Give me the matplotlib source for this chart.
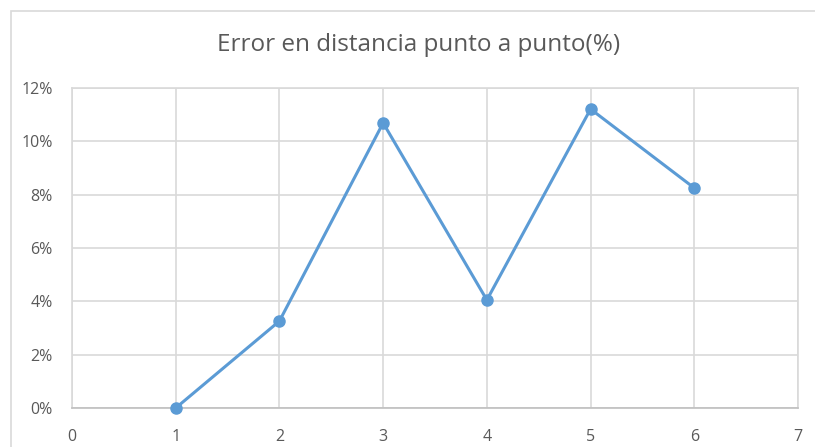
import matplotlib.pyplot as plt
from matplotlib.patches import Rectangle
from matplotlib.ticker import FuncFormatter

# valores
muestras = [1, 2, 3, 4, 5, 6]
error_pct = [0.0, 3.26, 10.69, 4.05, 11.21, 8.25]

xticks = [0, 1, 2, 3, 4, 5, 6, 7]
yticks = [0, 2, 4, 6, 8, 10, 12]

plt.rcParams['font.family'] = ['Open Sans', 'DejaVu Sans']

fig = plt.figure(figsize=(8.15, 4.47), dpi=100)
fig.set_facecolor('white')

# marco del grafico (estilo Excel)
fig.patches.append(Rectangle((11 / 815, -0.1), 1.2, 1 - 11 / 447 + 0.1,
                             transform=fig.transFigure, fill=False,
                             edgecolor='#d9d9d9', linewidth=1.2))

ax = fig.add_axes([72 / 815, 1 - 408 / 447, (798 - 72) / 815, (408 - 88) / 447])

ax.plot(muestras, error_pct, color='#5b9bd5', linewidth=2.2,
        marker='o', markersize=8, zorder=3, clip_on=False)

ax.set_xlim(0, 7)
ax.set_ylim(0, 12)
ax.set_xticks(xticks)
ax.set_yticks(yticks)
ax.yaxis.set_major_formatter(FuncFormatter(lambda v, p: '%d%%' % v))

ax.grid(True, color='#d9d9d9', linewidth=1.2)
ax.set_axisbelow(True)
for s in ax.spines.values():
    s.set_color('#d9d9d9')
    s.set_linewidth(1.2)
ax.spines['bottom'].set_color('#bfbfbf')

ax.tick_params(length=0, colors='#595959', labelsize=11.5)
ax.tick_params(axis='y', pad=14)
ax.tick_params(axis='x', pad=15)

fig.text(0.514, 1 - 45 / 447, 'Error en distancia punto a punto(%)',
         ha='center', va='center', fontsize=17.5, color='#595959')

fig.savefig('out.png', dpi=100)
